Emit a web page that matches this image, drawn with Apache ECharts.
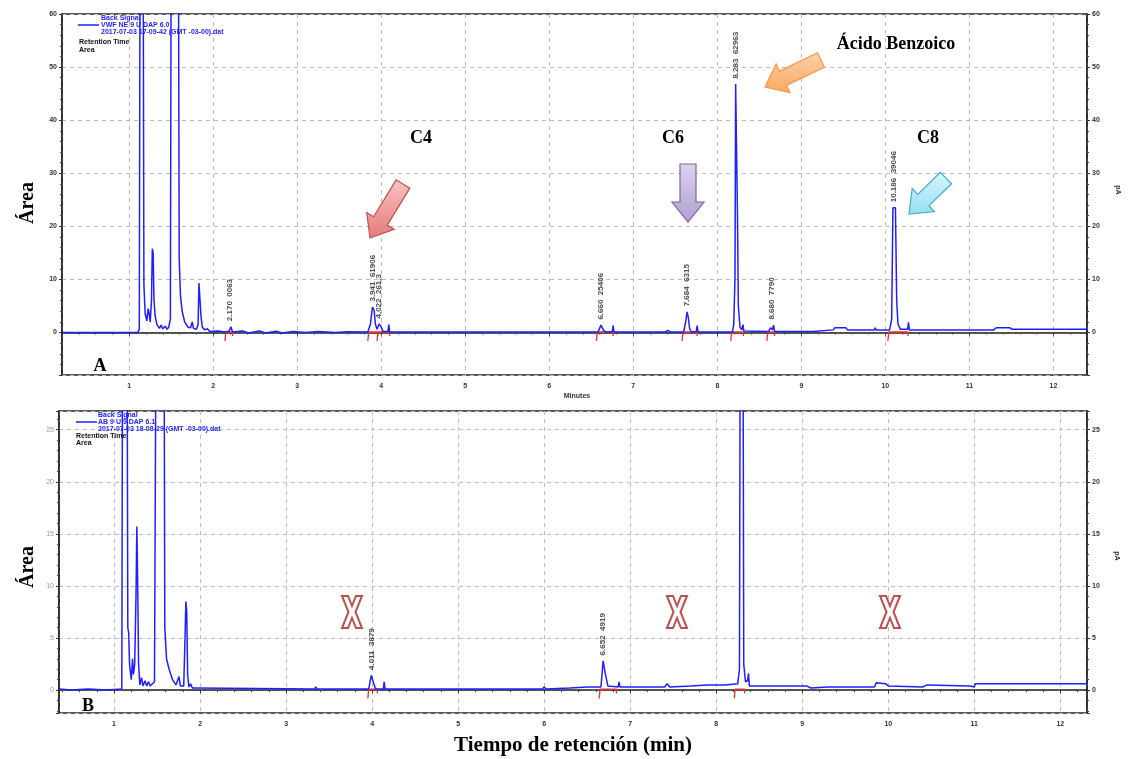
<!DOCTYPE html>
<html>
<head>
<meta charset="utf-8">
<script src="https://cdn.jsdelivr.net/npm/echarts@6/dist/echarts.min.js"></script>
<style>
html,body{margin:0;padding:0;background:#fff;}
#chart{width:1132px;height:759px;}
</style>
</head>
<body>
<div id="chart"></div>
<script>
// cromatograma A (con estandares)
var timesA = [0.2,1.10,1.12,1.13,1.165,1.175,1.19,1.21,1.225,1.235,1.25,1.265,1.275,1.285,1.295,1.31,1.33,1.36,1.38,1.40,1.43,1.45,1.47,1.49,
	1.50,1.585,1.595,1.61,1.63,1.66,1.70,1.73,1.75,1.765,1.80,1.82,1.83,1.845,1.855,1.87,1.90,1.93,1.96,2.05,2.15,2.19,2.21,2.23,
	2.35,2.42,2.55,2.62,2.75,2.82,2.95,3.1,3.25,3.45,3.6,3.84,3.87,3.895,3.915,3.93,3.95,3.975,3.995,4.02,4.08,4.09,4.10,
	6.36,6.38,6.40,6.58,6.615,6.65,6.68,6.75,6.76,6.77,7.38,7.41,7.44,7.60,7.625,7.64,7.655,7.67,7.69,7.75,7.76,7.77,
	8.18,8.195,8.21,8.218,8.232,8.24,8.25,8.27,8.29,8.305,8.315,8.61,8.635,8.655,8.67,8.68,9.14,9.16,9.38,9.40,9.53,9.55,
	9.87,9.88,9.89,10.05,10.075,10.09,10.12,10.135,10.15,10.18,10.265,10.275,10.285,11.29,11.32,11.48,11.51,12.4];
var signalA = [0,0,0.6,80,80,9,3.5,2.2,4.5,3.8,2.0,6,15.8,15,6,3,1.5,0.8,1.4,0.7,1.2,0.6,1.0,2.5,
	80,80,14,7,4,2,1.0,0.9,2.0,0.8,0.6,1.5,9.3,9.3,3,1.0,0.5,0.7,0.2,0.3,0.1,0.3,1.1,0.1,
	0.3,-0.1,0.3,-0.1,0.25,-0.1,0.2,0.0,0.2,0.0,0.15,0.1,1.5,4.8,4.2,1.6,0.6,1.6,1.2,0.2,0.2,1.5,0.1,
	0.1,0.35,0.1,0.1,1.4,0.3,0.1,0.2,1.3,0.1,0.1,0.4,0.1,0.1,2.2,3.9,2.8,0.8,0.1,0.2,1.3,0.1,
	0.1,1.5,10,46.8,46.8,22,5,1,0.5,1.5,0.3,0.2,0.9,0.5,1.4,0.2,0.2,0.5,0.5,0.9,0.9,0.5,
	0.5,0.9,0.5,0.5,2.5,23.5,23.5,6,1.6,0.6,0.6,1.9,0.5,0.5,0.9,0.9,0.6,0.6];

// cromatograma B (muestra)
var timesB = [0.36,0.5,0.7,0.9,1.09,1.10,1.15,1.16,1.17,1.18,1.20,1.215,1.225,1.24,1.255,1.265,1.275,1.285,1.30,1.32,1.335,1.36,1.38,1.40,1.42,1.47,
	1.49,1.58,1.59,1.61,1.64,1.68,1.72,1.74,1.755,1.77,1.81,1.825,1.835,1.845,1.855,1.87,1.89,1.91,1.95,1.97,
	3.33,3.345,3.36,3.96,3.99,4.02,4.04,4.13,4.14,4.15,5.98,6.0,6.02,6.3,6.5,6.66,6.685,6.71,6.74,6.76,6.86,6.87,6.88,
	7.40,7.43,7.46,7.7,7.9,8.1,8.25,8.27,8.28,8.31,8.32,8.34,8.365,8.375,8.385,9.05,9.1,9.3,9.84,9.86,9.97,10.0,
	10.4,10.45,10.95,11.0,11.01,12.31];
var signalB = [0.1,0.0,0.1,0.0,0.1,40,40,6,5.5,2.5,1.0,3.0,1.5,2.5,9,15.7,10,2.5,0.5,1.2,0.4,0.9,0.4,0.8,0.4,0.8,
	40,40,6,3,2,1,0.5,0.6,1.3,0.4,0.4,5,8.5,7.5,1.5,0.3,0.6,0.2,0.2,0.1,
	0.1,0.3,0.1,0.1,1.4,0.6,0.1,0.1,0.8,0.1,0.1,0.3,0.1,0.2,0.3,0.3,2.8,1.6,0.4,0.3,0.3,0.8,0.3,
	0.3,0.6,0.3,0.4,0.5,0.5,0.6,2,40,40,2.5,0.8,0.9,1.6,0.4,0.4,0.2,0.3,0.3,0.7,0.6,0.4,
	0.3,0.5,0.4,0.3,0.6,0.6];

// integracion (lineas rojas)
var intStartA = [2.15,3.85,3.96,6.57,7.59,8.17,8.60,10.04];
var intEndA = [2.23,3.96,4.10,6.76,7.76,8.31,8.68,10.27];
var intStartB = [3.96,6.65,8.22];
var intEndB = [4.06,6.84,8.33];

// etiquetas de picos
var peakTimesA = [2.20,3.895,3.975,6.615,7.64,8.225,8.65,10.105];
var peakHeightsA = [1.1,4.8,1.6,1.4,3.9,46.8,1.4,23.5];
var peakTextsA = ['2.170  0063','3.941  61906','4.022  261.3','6.660  25406','7.684  6315','8.283  62963','8.680  7790','10.186  39046'];
var peakTimesB = [4.0,6.685];
var peakHeightsB = [1.4,2.8];
var peakTextsB = ['4.011  3879','6.652  4919'];

var yTicksA = [0,10,20,30,40,50,60];
var yTicksB = [0,5,10,15,20,25];

var myChart = echarts.init(document.getElementById('chart'));

function intSeries(starts, ends, xi, yi, depth){
	var out = [];
	for(var i=0;i<starts.length;i++){
		out.push({
			type:'line', xAxisIndex:xi, yAxisIndex:yi, silent:true, symbol:'none',
			lineStyle:{color:'#ff2a2a', width:1.3},
			data:[[starts[i]-0.01,-depth],[starts[i],0.1],[ends[i],0.1],[ends[i],-depth*0.4]],
			z:3
		});
	}
	return out;
}

function labelData(ts, hs, txt){
	var d = [];
	for(var i=0;i<ts.length;i++){ d.push([ts[i], hs[i], txt[i]]); }
	return d;
}

function arrowPts(x0,y0,x1,y1,sw,hw,hl){
	var dx=x1-x0, dy=y1-y0, len=Math.sqrt(dx*dx+dy*dy);
	var ux=dx/len, uy=dy/len, nx=-uy, ny=ux;
	var bx=x1-ux*hl, by=y1-uy*hl;
	return [
		[x0+nx*sw/2, y0+ny*sw/2],[bx+nx*sw/2, by+ny*sw/2],[bx+nx*hw/2, by+ny*hw/2],[x1,y1],
		[bx-nx*hw/2, by-ny*hw/2],[bx-nx*sw/2, by-ny*sw/2],[x0-nx*sw/2, y0-ny*sw/2]
	];
}

function arrow(x0,y0,x1,y1,c1,c2,stroke){
	return {
		type:'polygon', silent:true, z:10,
		shape:{points:arrowPts(x0,y0,x1,y1,16,32,20)},
		style:{fill:new echarts.graphic.LinearGradient(0,0,0,1,[{offset:0,color:c1},{offset:1,color:c2}]), stroke:stroke, lineWidth:1.2}
	};
}

function xMark(cx,cy){
	var p = [[-10,-16],[-4,-16],[0,-6],[4,-16],[10,-16],[3.5,0],[10,16],[4,16],[0,6],[-4,16],[-10,16],[-3.5,0]];
	var pts = p.map(function(q){ return [cx+q[0], cy+q[1]]; });
	return {type:'polygon', silent:true, z:10, shape:{points:pts}, style:{fill:'#fff', stroke:'#c0504d', lineWidth:2}};
}

function txt(x,y,s,opt){
	var st = {text:s, x:0, y:0, fill:'#000', font:'bold 18px "Liberation Serif"', textAlign:'center', textVerticalAlign:'middle'};
	for(var k in opt){ st[k]=opt[k]; }
	return {type:'text', silent:true, z:12, x:x, y:y, rotation:st.rot||0, style:st};
}

var smallFont = '"Liberation Sans", Arial, sans-serif';

function xAx(gi, mn, mx){
	return {
		type:'value', gridIndex:gi, min:mn, max:mx, minInterval:1, maxInterval:1,
		axisLine:{show:true, lineStyle:{color:'#222', width:1.5}},
		axisTick:{show:true, length:3, lineStyle:{color:'#333'}},
		minorTick:{show:true, splitNumber:5, length:2, lineStyle:{color:'#444'}},
		axisLabel:{fontSize:7, fontWeight:'bold', color:'#333', fontFamily:smallFont, margin:8,
			showMinLabel:false, showMaxLabel:false,
			formatter:function(v){ return Math.abs(v-Math.round(v))<1e-6 ? String(Math.round(v)) : ''; }},
		splitLine:{show:true, lineStyle:{color:'#bdbdbd', type:[4,4], width:1}}
	};
}

function yAx(gi, mn, mx, step, ticks, pos, grid, faint){
	return {
		type:'value', gridIndex:gi, min:mn, max:mx, minInterval:step, maxInterval:step, position:pos,
		axisLine:{show:true, lineStyle:{color:'#222', width:1.5}},
		axisTick:{show:true, length:3, lineStyle:{color:'#333'}},
		minorTick:{show:true, splitNumber:5, length:2, lineStyle:{color:'#444'}},
		axisLabel:{fontSize:7, fontWeight:faint ? 'normal' : 'bold', color:faint ? '#9a9a9a' : '#333', fontFamily:smallFont, margin:5,
			showMinLabel:false,
			formatter:function(v){ return ticks.indexOf(Math.round(v*1000)/1000)>=0 ? String(Math.round(v)) : ''; }},
		splitLine:{show:grid, lineStyle:{color:'#bdbdbd', type:[4,4], width:1}}
	};
}

var lblStyle = {show:true, position:'top', rotate:90, align:'left', verticalAlign:'middle', distance:5,
	fontSize:8, fontWeight:'bold', color:'#222', fontFamily:smallFont,
	formatter:function(p){ return p.data[2]; }};

var series = [
	{type:'line', name:'Back Signal A', xAxisIndex:0, yAxisIndex:0, silent:true, symbol:'none', clip:true,
		lineStyle:{color:'#1f1fff', width:1.5}, z:4,
		data:timesA.map(function(t,i){ return [t, signalA[i]]; })},
	{type:'line', name:'Back Signal B', xAxisIndex:1, yAxisIndex:2, silent:true, symbol:'none', clip:true,
		lineStyle:{color:'#1f1fff', width:1.5}, z:4,
		data:timesB.map(function(t,i){ return [t, signalB[i]]; })},
	{type:'scatter', xAxisIndex:0, yAxisIndex:0, silent:true, symbolSize:1, itemStyle:{color:'rgba(0,0,0,0)'},
		label:lblStyle, data:labelData(peakTimesA, peakHeightsA, peakTextsA)},
	{type:'scatter', xAxisIndex:1, yAxisIndex:2, silent:true, symbolSize:1, itemStyle:{color:'rgba(0,0,0,0)'},
		label:lblStyle, data:labelData(peakTimesB, peakHeightsB, peakTextsB)}
].concat(intSeries(intStartA, intEndA, 0, 0, 1.6)).concat(intSeries(intStartB, intEndB, 1, 2, 0.8));

var legendFont = 'bold 7px ' + smallFont;
var graphic = [
	// leyenda A
	{type:'line', silent:true, shape:{x1:78,y1:25,x2:99,y2:25}, style:{stroke:'#1f1fff', lineWidth:1.5}},
	txt(101,18,'Back Signal',{font:legendFont, fill:'#2424ff', textAlign:'left'}),
	txt(101,25,'VWF NE 9 U DAP 6.0',{font:legendFont, fill:'#2424ff', textAlign:'left'}),
	txt(101,32,'2017-07-03 17-09-42 (GMT -03-00).dat',{font:legendFont, fill:'#2424ff', textAlign:'left'}),
	txt(79,42,'Retention Time',{font:legendFont, fill:'#111', textAlign:'left'}),
	txt(79,50,'Area',{font:legendFont, fill:'#111', textAlign:'left'}),
	// leyenda B
	{type:'line', silent:true, shape:{x1:76,y1:422,x2:97,y2:422}, style:{stroke:'#1f1fff', lineWidth:1.5}},
	txt(98,415,'Back Signal',{font:legendFont, fill:'#2424ff', textAlign:'left'}),
	txt(98,422,'AB 9 U 9 DAP 6.1',{font:legendFont, fill:'#2424ff', textAlign:'left'}),
	txt(98,429,'2017-07-03 18-08-29 (GMT -03-00).dat',{font:legendFont, fill:'#2424ff', textAlign:'left'}),
	txt(76,436,'Retention Time',{font:legendFont, fill:'#111', textAlign:'left'}),
	txt(76,443,'Area',{font:legendFont, fill:'#111', textAlign:'left'}),
	// ejes
	txt(577,396,'Minutes',{font:'bold 7px '+smallFont, fill:'#333'}),
	txt(1118,190,'pA',{font:'bold 7px '+smallFont, fill:'#333', rot:-Math.PI/2}),
	txt(1117,556,'pA',{font:'bold 7px '+smallFont, fill:'#333', rot:-Math.PI/2}),
	txt(28,203,'Área',{font:'bold 20px "Liberation Serif"', rot:Math.PI/2}),
	txt(28,567,'Área',{font:'bold 20px "Liberation Serif"', rot:Math.PI/2}),
	txt(573,746,'Tiempo de retención (min)',{font:'bold 21px "Liberation Serif"'}),
	txt(100,366,'A',{font:'bold 18px "Liberation Serif"'}),
	txt(88,706,'B',{font:'bold 18px "Liberation Serif"'}),
	txt(421,138,'C4',{font:'bold 18px "Liberation Serif"'}),
	txt(673,138,'C6',{font:'bold 18px "Liberation Serif"'}),
	txt(928,138,'C8',{font:'bold 18px "Liberation Serif"'}),
	txt(896,44,'Ácido Benzoico',{font:'bold 18px "Liberation Serif"'}),
	// flechas
	arrow(403,184,370,238,'#f9c3c3','#e57a7a','#c0504d'),
	arrow(688,164,688,222,'#ddd2ee','#b09fd0','#8064a2'),
	arrow(821,60,765,87,'#fcd2aa','#f9a860','#f79646'),
	arrow(946,178,909,214,'#d7f6fd','#93dff2','#4bacc6'),
	xMark(352,612), xMark(677,612), xMark(890,612)
];

var option = {
	animation:false,
	backgroundColor:'#fff',
	grid:[
		{left:62, top:14, width:1025, height:361, show:true, borderColor:'#222', borderWidth:1.5, backgroundColor:'#fff'},
		{left:59, top:411, width:1028, height:302, show:true, borderColor:'#222', borderWidth:1.5, backgroundColor:'#fff'}
	],
	xAxis:[ xAx(0, 0.2, 12.4), xAx(1, 0.36, 12.31) ],
	yAxis:[
		yAx(0, -8, 60, 10, yTicksA, 'left', true, false),
		yAx(0, -8, 60, 10, yTicksA, 'right', false, false),
		yAx(1, -2.2, 26.8, 5, yTicksB, 'left', true, true),
		yAx(1, -2.2, 26.8, 5, yTicksB, 'right', false, false)
	],
	series:series,
	graphic:graphic
};
myChart.setOption(option);
</script>
</body>
</html>
